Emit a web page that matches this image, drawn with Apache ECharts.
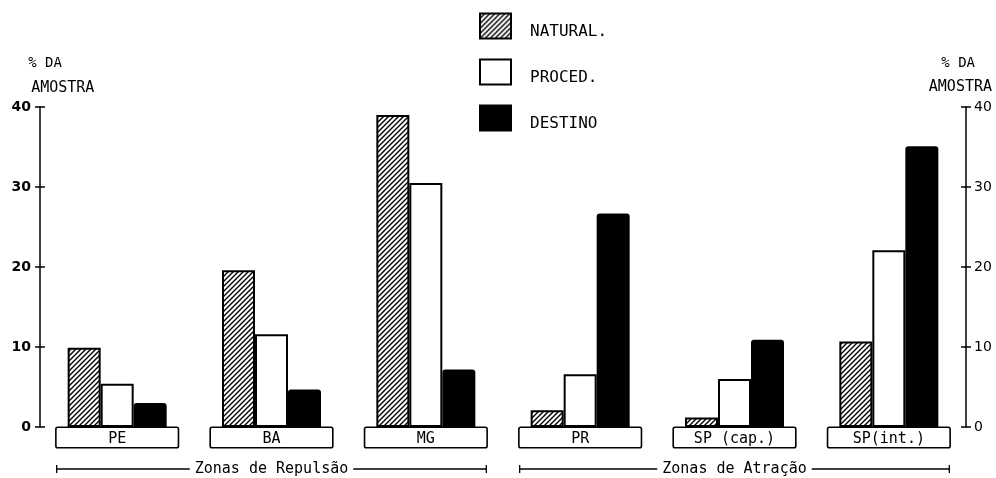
<!DOCTYPE html>
<html><head><meta charset="utf-8">
<script src="https://cdn.jsdelivr.net/npm/echarts@6/dist/echarts.min.js"></script>
<style>html,body{margin:0;padding:0;background:#fff}#c{width:996px;height:478px}</style>
</head><body><div id="c"></div>
<script>
const categories = ['PE', 'BA', 'MG', 'PR', 'SP (cap.)', 'SP(int.)'];
const natural = [9.9, 19.6, 39, 2.1, 1.2, 10.7];
const proced = [5.4, 11.6, 30.5, 6.6, 6, 22.1];
const destino = [3, 4.7, 7.2, 26.7, 10.9, 35.1];
const yTicks = [0, 10, 20, 30, 40];
const zones = [
  { name: 'Zonas de Repulsão', from: 0, to: 2 },
  { name: 'Zonas de Atração', from: 3, to: 5 }
];

const MONO = '"DejaVu Sans Mono", monospace';

function hatch() {
  const s = 5, c = document.createElement('canvas');
  c.width = s; c.height = s;
  const g = c.getContext('2d');
  g.fillStyle = '#fff'; g.fillRect(0, 0, s, s);
  g.strokeStyle = '#000'; g.lineWidth = 1.4;
  g.beginPath();
  g.moveTo(-1, s + 1); g.lineTo(s + 1, -1);
  g.moveTo(-1, 1); g.lineTo(1, -1);
  g.moveTo(s - 1, s + 1); g.lineTo(s + 1, s - 1);
  g.stroke();
  return c;
}

const chart = echarts.init(document.getElementById('c'));
const yMin = yTicks[0], yMax = yTicks[yTicks.length - 1], yInt = yTicks[1] - yTicks[0];
const baseY = { type: 'value', min: yMin, max: yMax, interval: yInt, splitLine: { show: false } };

const option = {
  animation: false,
  backgroundColor: '#fff',
  grid: { left: 40, right: 30, top: 107, bottom: 51 },
  legend: {
    orient: 'vertical', left: 479, top: 12, padding: 0, itemWidth: 31, itemHeight: 25, itemGap: 18,
    icon: 'rect', selectedMode: false,
    formatter: name => '\n' + name,
    textStyle: { fontFamily: MONO, fontSize: 16, lineHeight: 12, color: '#000', padding: [0, 0, 0, 14] }
  },
  xAxis: {
    type: 'category', data: categories,
    axisLine: { show: false }, axisTick: { show: false },
    axisLabel: {
      margin: 1, interval: 0, color: '#000', fontFamily: MONO, fontSize: 15,
      width: 121, height: 19, lineHeight: 22, overflow: 'none',
      backgroundColor: '#fff', borderColor: '#000', borderWidth: 1.6, borderRadius: 1,
      align: 'center', verticalAlign: 'top'
    }
  },
  yAxis: [
    Object.assign({}, baseY, {
      position: 'left',
      axisLine: { show: true, lineStyle: { color: '#000', width: 1.5 } },
      axisTick: { show: true, length: 5, lineStyle: { color: '#000', width: 1.5 } },
      axisLabel: { color: '#000', fontFamily: '"DejaVu Sans", sans-serif', fontWeight: 'bold', fontSize: 14, margin: 9 }
    }),
    Object.assign({}, baseY, {
      position: 'right',
      axisLine: { show: true, lineStyle: { color: '#000', width: 1.5 } },
      axisTick: { show: true, length: 5, lineStyle: { color: '#000', width: 1.5 } },
      axisLabel: { color: '#000', fontFamily: '"DejaVu Sans", sans-serif', fontSize: 14, margin: 8 }
    }),
    Object.assign({}, baseY, {
      position: 'left',
      axisLine: { show: false }, axisLabel: { show: false },
      axisTick: { show: true, inside: true, length: 5, lineStyle: { color: '#000', width: 1.5 } }
    }),
    Object.assign({}, baseY, {
      position: 'right',
      axisLine: { show: false }, axisLabel: { show: false },
      axisTick: { show: true, inside: true, length: 5, lineStyle: { color: '#000', width: 1.5 } }
    })
  ],
  series: [
    { name: 'NATURAL.', type: 'bar', data: natural, barWidth: 33, barGap: '0%',
      itemStyle: { color: { image: hatch(), repeat: 'repeat' }, borderColor: '#000', borderWidth: 2 } },
    { name: 'PROCED.', type: 'bar', data: proced, barWidth: 33, barGap: '0%',
      itemStyle: { color: '#fff', borderColor: '#000', borderWidth: 2 } },
    { name: 'DESTINO', type: 'bar', data: destino, barWidth: 33, barGap: '0%',
      itemStyle: { color: '#000', borderColor: '#000', borderWidth: 2, borderRadius: [2, 2, 0, 0] } }
  ]
};
chart.setOption(option);

// annotations positioned from the axes
const halfBox = 60.5;
const lineY = 469;
const elements = [];
zones.forEach(z => {
  const x0 = chart.convertToPixel({ xAxisIndex: 0 }, categories[z.from]) - halfBox;
  const x1 = chart.convertToPixel({ xAxisIndex: 0 }, categories[z.to]) + halfBox;
  const ls = { stroke: '#000', lineWidth: 1.3 };
  elements.push({ type: 'line', shape: { x1: x0, y1: lineY, x2: x1, y2: lineY }, style: ls, silent: true });
  elements.push({ type: 'line', shape: { x1: x0, y1: lineY - 4, x2: x0, y2: lineY + 4 }, style: ls, silent: true });
  elements.push({ type: 'line', shape: { x1: x1, y1: lineY - 4, x2: x1, y2: lineY + 4 }, style: ls, silent: true });
  elements.push({ type: 'text', x: (x0 + x1) / 2, y: lineY, silent: true,
    style: { text: z.name, fill: '#000', font: '15px ' + MONO, align: 'center', verticalAlign: 'middle',
      backgroundColor: '#fff', padding: [0, 5] } });
});
const yTop = chart.convertToPixel({ yAxisIndex: 0 }, yMax);
const leftX = chart.convertToPixel({ xAxisIndex: 0 }, categories[0]) - 77;
elements.push({ type: 'text', x: leftX - 12, y: yTop - 44, silent: true,
  style: { text: '% DA', fill: '#000', font: '14px ' + MONO, align: 'left', verticalAlign: 'middle' } });
elements.push({ type: 'text', x: leftX - 9, y: yTop - 19, silent: true,
  style: { text: 'AMOSTRA', fill: '#000', font: '15px ' + MONO, align: 'left', verticalAlign: 'middle' } });
elements.push({ type: 'text', x: 975, y: yTop - 44, silent: true,
  style: { text: '% DA', fill: '#000', font: '14px ' + MONO, align: 'right', verticalAlign: 'middle' } });
elements.push({ type: 'text', x: 992, y: yTop - 20, silent: true,
  style: { text: 'AMOSTRA', fill: '#000', font: '15px ' + MONO, align: 'right', verticalAlign: 'middle' } });
chart.setOption({ graphic: { elements: elements } });
</script></body></html>
